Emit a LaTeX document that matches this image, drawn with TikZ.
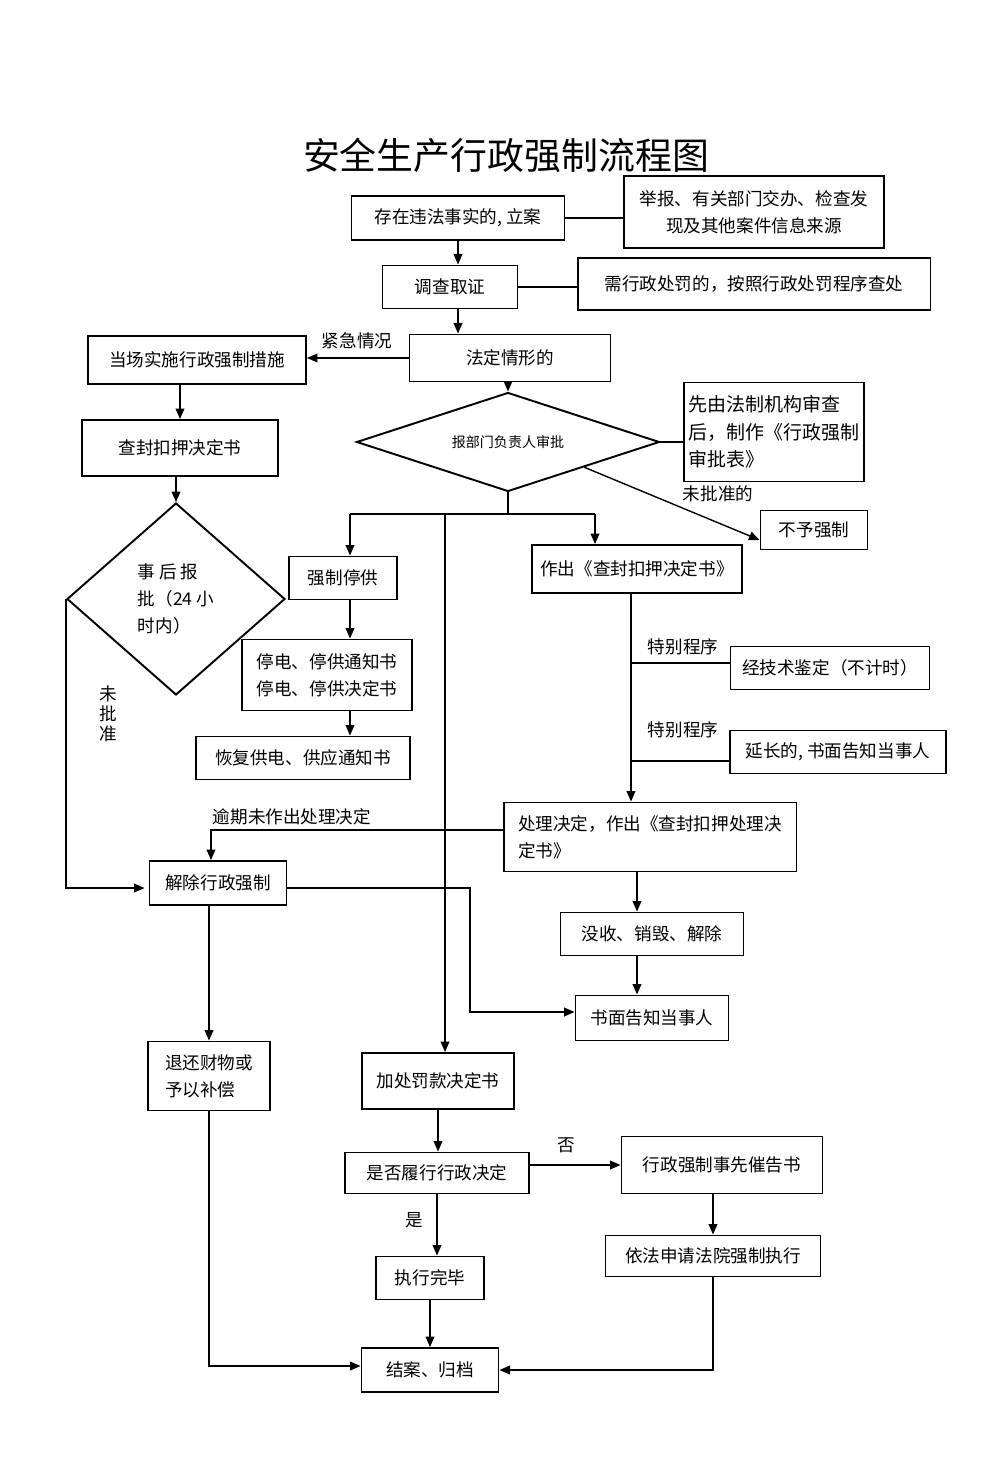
\documentclass[tikz,border=0pt]{standalone}
\usepackage{fontspec}
\setmainfont{Noto Sans CJK SC}
\usetikzlibrary{arrows.meta,shapes.geometric,calc}

\begin{document}
\begin{tikzpicture}[x=0.02cm, y=-0.02cm,
  font=\fontsize{10}{15.5}\selectfont,
  caja/.style={draw, line width=1.1pt, inner sep=2pt},
  rombo/.style={draw, diamond, line width=1.1pt, inner sep=0pt},
  flecha/.style={-{Triangle[length=6pt,width=5pt]}, line width=0.8pt},
  linea/.style={line width=0.8pt},
  rotulo/.style={inner sep=1pt}]

\useasboundingbox (0,0) rectangle (1000,1463);

% --- titulo ---
\node[font=\fontsize{21}{24}\selectfont] (titulo) at (506,155) {安全生产行政强制流程图};

% --- inicio del caso ---
\node[caja, minimum width=4.26cm, minimum height=0.88cm] (caso) at (458,218) {存在违法事实的, 立案};
\node[caja, align=center, minimum width=5.2cm, minimum height=1.44cm] (fuente) at (754,212)
  {举报、有关部门交办、检查发\\现及其他案件信息来源};
\node[caja, minimum width=2.7cm, minimum height=0.86cm] (investiga) at (450,287) {调查取证};
\node[caja, minimum width=7.06cm, minimum height=1.04cm] (sancion) at (754,284) {需行政处罚的，按照行政处罚程序查处};
\node[caja, minimum width=4.02cm, minimum height=0.94cm] (legal) at (510,358) {法定情形的};
\node[caja, minimum width=4.36cm, minimum height=0.96cm] (sitio) at (197,360) {当场实施行政强制措施};

% --- rama de urgencia ---
\node[caja, minimum width=3.92cm, minimum height=1.12cm] (decide1) at (180,448) {查封扣押决定书};
\node[rombo, align=left, minimum width=4.36cm, minimum height=3.84cm] (d1) at (176,599)
  {事 后 报\\批（24 小\\时内）};

% --- aprobacion ---
\node[rombo, aspect=3.06, font=\fontsize{8}{10}\selectfont, minimum width=6.06cm, minimum height=1.98cm] (d2) at (508,442) {报部门负责人审批};
\node[caja, align=left, font=\fontsize{10.8}{15.5}\selectfont, minimum width=3.6cm, minimum height=1.98cm] (revisa) at (774,432)
  {先由法制机构审查\\后，制作《行政强制\\审批表》};
\node[caja, minimum width=2.14cm, minimum height=0.78cm] (noforzar) at (814,530) {不予强制};

% --- suspension de suministro ---
\node[caja, minimum width=2.16cm, minimum height=0.86cm] (corte) at (343,578) {强制停供};
\node[caja, align=center, minimum width=3.4cm, minimum height=1.42cm] (aviso) at (327,675)
  {停电、停供通知书\\停电、停供决定书};
\node[caja, minimum width=4.28cm, minimum height=0.86cm] (restaura) at (303,758) {恢复供电、供应通知书};

% --- embargo ---
\node[caja, minimum width=4.2cm, minimum height=0.96cm] (decide2) at (637,569) {作出《查封扣押决定书》};
\node[caja, minimum width=3.98cm, minimum height=0.86cm] (tecnica) at (830,668) {经技术鉴定（不计时）};
\node[caja, minimum width=4.32cm, minimum height=0.86cm] (prorroga) at (838,752) {延长的, 书面告知当事人};
\node[caja, align=left, minimum width=5.86cm, minimum height=1.38cm] (trata) at (650,837)
  {处理决定，作出《查封扣押处理决\\定书》};
\node[caja, minimum width=2.74cm, minimum height=0.88cm] (libera) at (218,883) {解除行政强制};
\node[caja, minimum width=3.66cm, minimum height=0.86cm] (confisca) at (652,934) {没收、销毁、解除};
\node[caja, minimum width=3.06cm, minimum height=0.9cm] (notifica) at (652,1018) {书面告知当事人};
\node[caja, align=left, minimum width=2.44cm, minimum height=1.38cm] (devuelve) at (209,1076)
  {退还财物或\\予以补偿};

% --- ejecucion ---
\node[caja, minimum width=3.04cm, minimum height=1.12cm] (multa) at (438,1081) {加处罚款决定书};
\node[caja, minimum width=3.68cm, minimum height=0.82cm] (cumple) at (437,1173) {是否履行行政决定};
\node[caja, minimum width=4.02cm, minimum height=1.14cm] (intima) at (722,1165) {行政强制事先催告书};
\node[caja, minimum width=4.3cm, minimum height=0.82cm] (tribunal) at (713,1256) {依法申请法院强制执行};
\node[caja, minimum width=2.16cm, minimum height=0.86cm] (ejecuta) at (430,1278) {执行完毕};
\node[caja, minimum width=2.74cm, minimum height=0.88cm] (archiva) at (430,1370) {结案、归档};

% --- rotulos ---
\node[rotulo] (urgente) at (357,341) {紧急情况};
\node[rotulo] (noaprob) at (718,494) {未批准的};
\node[rotulo] (esp1) at (683,647) {特别程序};
\node[rotulo] (esp2) at (683,730) {特别程序};
\node[rotulo] (vencido) at (292,817) {逾期未作出处理决定};
\node[rotulo, align=center, font=\fontsize{10}{11.5}\selectfont] (nolbl) at (108,714) {未\\批\\准};
\node[rotulo] (no) at (566,1145) {否};
\node[rotulo] (si) at (414,1220) {是};

% puntos de quiebre
\coordinate (bifL) at (350,514);
\coordinate (bifM) at (445,514);
\coordinate (bifR) at (595,514);
\coordinate (eje) at (631,593);
\coordinate (eje2) at (637,871);
\coordinate (codo) at (470,1012);
\coordinate (t1) at ($(tecnica.west)+(0,-5)$);
\coordinate (p1) at ($(prorroga.west)+(0,9)$);

% --- conectores ---
\draw[linea] (caso.east) -- (caso.east -| fuente.west);
\draw[flecha] (caso.south) -- (caso.south |- investiga.north);
\draw[linea] (investiga.east) -- (investiga.east -| sancion.west);
\draw[flecha] (caso.south |- investiga.south) -- (caso.south |- legal.north);
\draw[flecha] (legal.west) -- (legal.west -| sitio.east);
\draw[flecha] (decide1.north |- sitio.south) -- (decide1.north);
\draw[flecha] (d1.north |- decide1.south) -- (d1.north);
\draw[flecha] (d2.north |- legal.south) -- (d2.north);
\draw[linea] (d2.east) -- (d2.east -| revisa.west);
\draw[flecha] (d2.south east) -- ($(noforzar.west)+(0,10)$);

\draw[linea] (d2.south) -- (d2.south |- bifL);
\draw[linea] (bifL) -- (bifR);
\draw[flecha] (bifL) -- (bifL |- corte.north);
\draw[flecha] (bifR) -- (bifR |- decide2.north);
\draw[flecha] (bifM) -- (bifM |- multa.north);
\draw[flecha] (bifL |- corte.south) -- (bifL |- aviso.north);
\draw[flecha] (bifL |- aviso.south) -- (bifL |- restaura.north);

\draw[flecha] (eje) -- (eje |- trata.north);
\draw[linea] (eje |- t1) -- (t1);
\draw[linea] (eje |- p1) -- (p1);

\draw[flecha] ($(trata.west)+(0,-7)$) -| ($(libera.north)+(-7,0)$);
\draw[flecha] (d1.west) |- ($(libera.west)+(-4,5)$);
\draw[flecha] ($(libera.east)+(0,5)$) -| (codo) -- (codo -| notifica.west);
\draw[flecha] (eje2) -- (eje2 |- confisca.north);
\draw[flecha] (eje2 |- confisca.south) -- (eje2 |- notifica.north);
\draw[flecha] (devuelve.north |- libera.south) -- (devuelve.north);

\draw[flecha] (multa.south) -- (multa.south |- cumple.north);
\draw[flecha] ($(cumple.east)+(0,-8)$) -- ($(cumple.east -| intima.west)+(0,-8)$);
\draw[flecha] (tribunal.north |- intima.south) -- (tribunal.north);
\draw[flecha] (cumple.south) -- (cumple.south |- ejecuta.north);
\draw[flecha] (ejecuta.south) -- (ejecuta.south |- archiva.north);
\draw[flecha] (devuelve.south) |- ($(archiva.west)+(0,-4)$);
\draw[flecha] (tribunal.south) |- (archiva.east);

\end{tikzpicture}
\end{document}
